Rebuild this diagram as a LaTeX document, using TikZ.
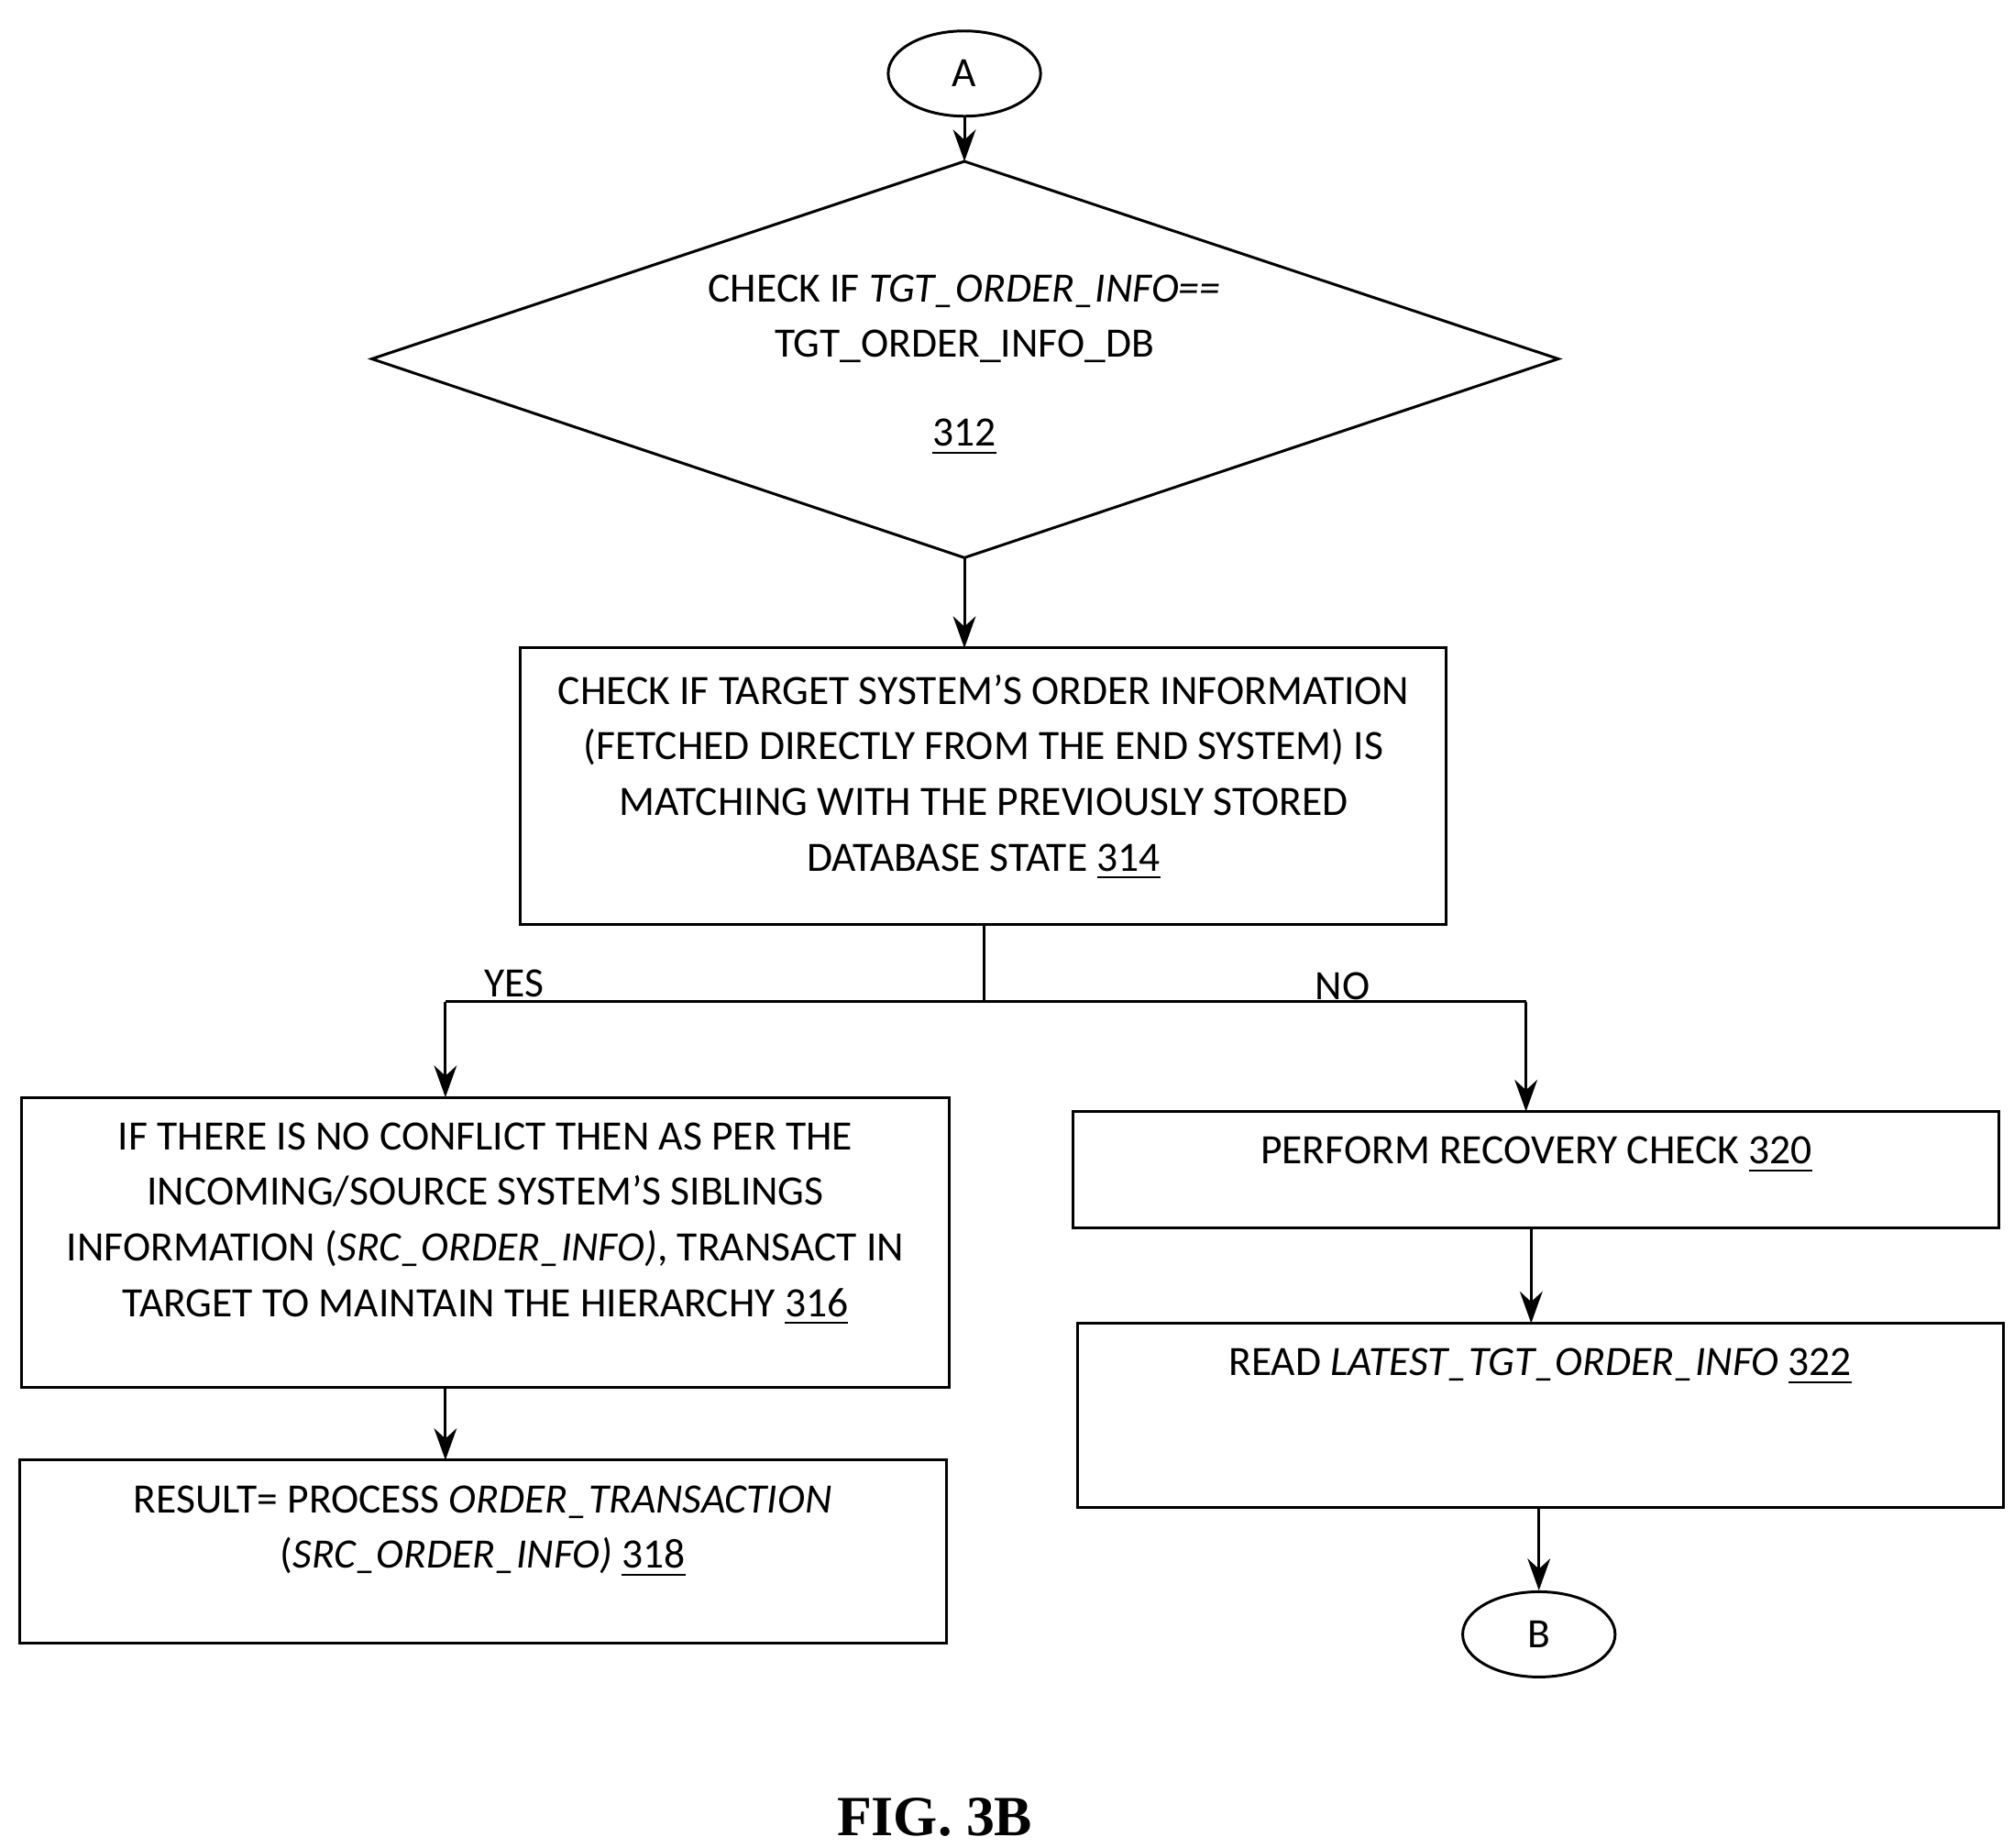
\documentclass[tikz,border=0pt]{standalone}
\usepackage{fontspec}
\setmainfont{Carlito}
\newfontfamily\figfont{Liberation Serif}
\usetikzlibrary{shapes.geometric,arrows.meta}
\begin{document}
\begin{tikzpicture}[x=0.01cm,y=-0.01cm,
  every node/.style={font=\fontsize{9.2pt}{0.43cm}\selectfont},
  box/.style={draw,line width=0.6pt},
  txt/.style={align=center,anchor=north,inner sep=0pt},
  arr/.style={-{Stealth[length=7pt,width=5pt]},line width=0.6pt},
  term/.style={draw,ellipse,minimum width=1.18cm,minimum height=0.66cm,inner sep=0pt,line width=0.6pt}]
\useasboundingbox (0,0) rectangle (1560,1431);
\node[term] (A) at (747,57) {A};
\draw[line width=0.6pt] (747,125) coordinate (dt) -- (1207,278) coordinate (dr) -- (747,432) coordinate (db) -- (288,278) coordinate (dl) -- cycle;
\node[txt] (t312) at (747,212) {CHECK IF \textit{TGT\_ORDER\_INFO==}\\TGT\_ORDER\_INFO\_DB\\[0.26cm]\underline{312}};
\draw[arr] (A) -- (dt);
\draw[box] (403,502) rectangle (1120,716);
\coordinate (b314t) at (747,502);
\node[txt] (t314) at (762,522) {CHECK IF TARGET SYSTEM’S ORDER INFORMATION\\(FETCHED DIRECTLY FROM THE END SYSTEM) IS\\MATCHING WITH THE PREVIOUSLY STORED\\DATABASE STATE \underline{314}};
\draw[arr] (db) -- (b314t);
\coordinate (b314b) at (762,716);
\coordinate (split) at (762,776);
\coordinate (jl) at (345,776);
\coordinate (jr) at (1182,776);
\draw[line width=0.6pt] (b314b) -- (split);
\draw[line width=0.6pt] (jl) -- (jr);
\node (yes) at (398,762) {YES};
\node (no) at (1040,764) {NO};
\draw[box] (17,850) rectangle (735,1075);
\coordinate (b316t) at (345,850);
\coordinate (b316b) at (345,1075);
\node[txt] (t316) at (376,869) {IF THERE IS NO CONFLICT THEN AS PER THE\\INCOMING/SOURCE SYSTEM’S SIBLINGS\\INFORMATION (\textit{SRC\_ORDER\_INFO)}, TRANSACT IN\\TARGET TO MAINTAIN THE HIERARCHY \underline{316}};
\draw[arr] (jl) -- (b316t);
\draw[box] (15,1131) rectangle (733,1273);
\coordinate (b318t) at (345,1131);
\node[txt] (t318) at (374,1150) {RESULT= PROCESS \textit{ORDER\_TRANSACTION}\\(\textit{SRC\_ORDER\_INFO)} \underline{318}};
\draw[arr] (b316b) -- (b318t);
\draw[box] (831,861) rectangle (1548,951);
\coordinate (b320t) at (1182,861);
\coordinate (b320b) at (1186,951);
\node[txt] (t320) at (1190,880) {PERFORM RECOVERY CHECK \underline{320}};
\draw[arr] (jr) -- (b320t);
\draw[box] (835,1025) rectangle (1552,1168);
\coordinate (b322t) at (1186,1025);
\coordinate (b322b) at (1192,1168);
\node[txt] (t322) at (1193,1044) {READ \textit{LATEST\_TGT\_ORDER\_INFO} \underline{322}};
\draw[arr] (b320b) -- (b322t);
\node[term] (B) at (1192,1266) {B};
\draw[arr] (b322b) -- (B);
\node[font=\figfont\bfseries\fontsize{12.5pt}{14pt}\selectfont] (fig) at (724,1408) {FIG. 3B};
\end{tikzpicture}
\end{document}
